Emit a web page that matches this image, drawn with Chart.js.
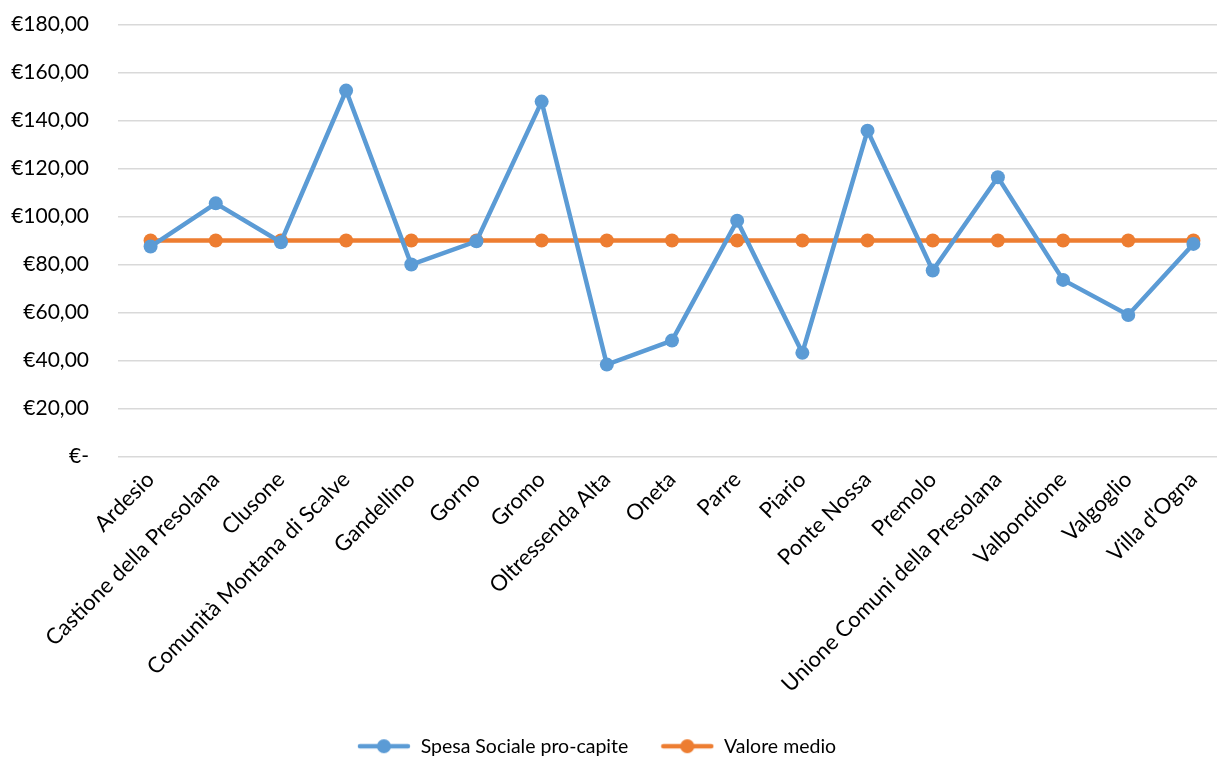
<!DOCTYPE html>
<html>
<head>
<meta charset="utf-8">
<script src="https://cdn.jsdelivr.net/npm/chart.js@4"></script>
<style>
  html, body { margin: 0; padding: 0; background: #fff; overflow: hidden; }
  #box { position: relative; width: 1233px; height: 785px; margin-top: -17px; }
</style>
</head>
<body>
<div id="box"><canvas id="grafico"></canvas></div>
<script>
const categorie = ["Ardesio", "Castione della Presolana", "Clusone", "Comunità Montana di Scalve",
  "Gandellino", "Gorno", "Gromo", "Oltressenda Alta", "Oneta", "Parre", "Piario", "Ponte Nossa",
  "Premolo", "Unione Comuni della Presolana", "Valbondione", "Valgoglio", "Villa d'Ogna"];
const spesaProCapite = [87.5, 105.5, 89.3, 152.5, 80.0, 89.7, 147.9, 38.3, 48.3, 98.3, 43.2,
  135.8, 77.5, 116.4, 73.6, 59.0, 88.6];
const valoreMedio = [90, 90, 90, 90, 90, 90, 90, 90, 90, 90, 90, 90, 90, 90, 90, 90, 90];
const etichetteY = { 0: "€-", 20: "€20,00", 40: "€40,00", 60: "€60,00", 80: "€80,00",
  100: "€100,00", 120: "€120,00", 140: "€140,00", 160: "€160,00", 180: "€180,00" };

const BLU = "#5B9BD5";
const ARANCIO = "#ED7D31";
const FONT = "Lato, 'Open Sans', sans-serif";

// simbolo legenda: linea con pallino
function simbolo(colore) {
  const c = document.createElement("canvas");
  c.width = 54; c.height = 16;
  const g = c.getContext("2d");
  g.strokeStyle = colore; g.lineWidth = 4.5; g.lineCap = "round";
  g.beginPath(); g.moveTo(3, 8); g.lineTo(51, 8); g.stroke();
  g.fillStyle = colore;
  g.beginPath(); g.arc(27, 8, 7, 0, Math.PI * 2); g.fill();
  return c;
}

// sposta la legenda un po' a sinistra come nell'originale
const spostaLegenda = {
  id: "spostaLegenda",
  afterLayout: function(chart) {
    if (chart.legend) {
      chart.legend.left -= 20;
      chart.legend.right -= 20;
    }
  }
};

const ctx = document.getElementById("grafico").getContext("2d");
new Chart(ctx, {
  type: "line",
  data: {
    labels: categorie,
    datasets: [
      {
        label: "Spesa Sociale pro-capite",
        data: spesaProCapite,
        borderColor: BLU, backgroundColor: BLU,
        borderWidth: 4.5, pointRadius: 7, pointHoverRadius: 7,
        pointBorderWidth: 0, tension: 0
      },
      {
        label: "Valore medio",
        data: valoreMedio,
        borderColor: ARANCIO, backgroundColor: ARANCIO,
        borderWidth: 4.5, pointRadius: 7, pointHoverRadius: 7,
        pointBorderWidth: 0, tension: 0
      }
    ]
  },
  plugins: [spostaLegenda],
  options: {
    responsive: true,
    maintainAspectRatio: false,
    animation: false,
    layout: { padding: { top: 0, right: 0, left: 0, bottom: 2 } },
    plugins: {
      tooltip: { enabled: false },
      legend: {
        position: "bottom",
        labels: {
          usePointStyle: true,
          pointStyleWidth: 54,
          padding: 32,
          color: "#000",
          font: { family: FONT, size: 19.5 },
          generateLabels: function(chart) {
            return chart.data.datasets.map(function(ds, i) {
              return {
                text: ds.label,
                pointStyle: simbolo(ds.borderColor),
                fillStyle: ds.borderColor,
                strokeStyle: ds.borderColor,
                lineWidth: 0,
                hidden: false,
                datasetIndex: i
              };
            });
          }
        }
      }
    },
    scales: {
      x: {
        offset: true,
        grid: { display: false },
        border: { display: false },
        afterFit: function(s) { s.height = 248; },
        ticks: {
          color: "#000",
          font: { family: FONT, size: 22 },
          minRotation: 45, maxRotation: 45,
          autoSkip: false, padding: 2
        }
      },
      y: {
        min: 0, max: 180,
        grid: { color: "#d9d9d9", lineWidth: 1.5, drawTicks: false },
        border: { display: false },
        afterFit: function(s) { s.width = 118; },
        ticks: {
          stepSize: 20,
          padding: 29,
          color: "#000",
          font: { family: FONT, size: 21 },
          callback: function(v) { return etichetteY[v]; }
        }
      }
    }
  }
});
</script>
</body>
</html>
